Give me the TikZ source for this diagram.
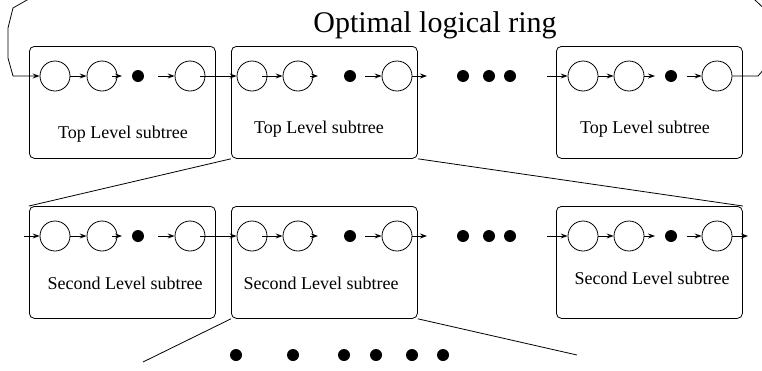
\documentclass[tikz,border=0pt]{standalone}
\usepackage{fontspec}
\setmainfont{Liberation Serif}
\usetikzlibrary{arrows.meta}
\begin{document}
\begin{tikzpicture}[x=1pt,y=-1pt,line width=0.8pt,
  ringnode/.style={circle,draw,minimum size=30pt,inner sep=0pt},
  dotnode/.style={circle,fill,minimum size=12pt,inner sep=0pt},
  subbox/.style={draw,rounded corners=5pt,minimum width=186pt,minimum height=112pt,inner sep=0pt,anchor=north west},
  lbl/.style={font=\fontsize{18}{20}\selectfont,anchor=base,inner sep=0pt},
  arr/.style={-{Stealth[length=7pt,width=5pt,inset=2.5pt]}},
]
\useasboundingbox (0,0) rectangle (762,370);

% title
\node[font=\fontsize{30}{32}\selectfont,anchor=base,inner sep=0pt] (title) at (435,32) {Optimal logical ring};

% ---------- top row ----------
\node[subbox] (t1) at (29,46) {};
\node[subbox] (t2) at (231,46) {};
\node[subbox] (t3) at (556,46) {};

\node[ringnode] (t1a) at (55,76) {};
\node[ringnode] (t1b) at (102,76) {};
\node[dotnode]  (t1d) at (138,76) {};
\node[ringnode] (t1c) at (190,76) {};

\node[ringnode] (t2a) at (252,76) {};
\node[ringnode] (t2b) at (298,76) {};
\node[dotnode]  (t2d) at (350,76) {};
\node[ringnode] (t2c) at (397,76) {};

\node[dotnode] (te1) at (463,76) {};
\node[dotnode] (te2) at (489,76) {};
\node[dotnode] (te3) at (510,76) {};

\node[ringnode] (t3a) at (583,76) {};
\node[ringnode] (t3b) at (629,76) {};
\node[dotnode]  (t3d) at (671,76) {};
\node[ringnode] (t3c) at (717,76) {};

\node[lbl] (t1l) at (123,138) {Top Level subtree};
\node[lbl] (t2l) at (319,133) {Top Level subtree};
\node[lbl] (t3l) at (645,133) {Top Level subtree};

\coordinate (t1x) at (122,76);
\coordinate (t1y) at (158,76);
\coordinate (t2x) at (318,76);
\coordinate (t2y) at (365,76);
\coordinate (t2z) at (427,76);
\coordinate (t3w) at (547,76);
\coordinate (t3x) at (655,76);
\coordinate (t3y) at (687,76);

\draw[arr] (t1a) -- (t1b);
\draw[arr] ([xshift=-5pt]t1b.east) -- (t1x);
\draw[arr] (t1y) -- (t1c);
\draw[arr] ([xshift=-5pt]t1c.east) -- (t2a);
\draw[arr] ([xshift=-5pt]t2a.east) -- (t2b);
\draw[arr] ([xshift=-3pt]t2b.east) -- (t2x);
\draw[arr] (t2y) -- (t2c);
\draw[arr] (t2c) -- (t2z);
\draw[arr] (t3w) -- (t3a);
\draw[arr] (t3a) -- (t3b);
\draw[arr] (t3b) -- (t3x);
\draw[arr] (t3y) -- (t3c);

% ring (clipped at top)
\begin{scope}
\clip (0,0) rectangle (762,370);
\draw[arr] (t3c) -- (758,76) -- (772,60) -- (774,18) -- (755,0) -- (745,-8)
  -- (40,-8) -- (27,0) -- (13,8) -- (8,28) -- (8,58) -- (13,76) -- (t1a);
\end{scope}

% ---------- second row ----------
\node[subbox] (s1) at (29,206) {};
\node[subbox] (s2) at (231,206) {};
\node[subbox] (s3) at (556,206) {};

\node[ringnode] (s1a) at (55,236) {};
\node[ringnode] (s1b) at (102,236) {};
\node[dotnode]  (s1d) at (138,236) {};
\node[ringnode] (s1c) at (190,236) {};

\node[ringnode] (s2a) at (252,236) {};
\node[ringnode] (s2b) at (298,236) {};
\node[dotnode]  (s2d) at (350,236) {};
\node[ringnode] (s2c) at (397,236) {};

\node[dotnode] (se1) at (463,236) {};
\node[dotnode] (se2) at (489,236) {};
\node[dotnode] (se3) at (510,236) {};

\node[ringnode] (s3a) at (583,236) {};
\node[ringnode] (s3b) at (629,236) {};
\node[dotnode]  (s3d) at (671,236) {};
\node[ringnode] (s3c) at (717,236) {};

\node[lbl] (s1l) at (125,289) {Second Level subtree};
\node[lbl] (s2l) at (321,289) {Second Level subtree};
\node[lbl] (s3l) at (652,284) {Second Level subtree};

\coordinate (s1w) at (24,236);
\coordinate (s1x) at (122,236);
\coordinate (s1y) at (158,236);
\coordinate (s2x) at (318,236);
\coordinate (s2y) at (365,236);
\coordinate (s2z) at (427,236);
\coordinate (s3w) at (547,236);
\coordinate (s3x) at (655,236);
\coordinate (s3y) at (687,236);
\coordinate (s3z) at (748,236);

\draw[arr] (s1w) -- (s1a);
\draw[arr] (s1a) -- (s1b);
\draw[arr] ([xshift=-5pt]s1b.east) -- (s1x);
\draw[arr] (s1y) -- (s1c);
\draw[arr] ([xshift=-5pt]s1c.east) -- (s2a);
\draw[arr] ([xshift=-5pt]s2a.east) -- (s2b);
\draw[arr] ([xshift=-3pt]s2b.east) -- (s2x);
\draw[arr] (s2y) -- (s2c);
\draw[arr] (s2c) -- (s2z);
\draw[arr] (s3w) -- (s3a);
\draw[arr] (s3a) -- (s3b);
\draw[arr] (s3b) -- (s3x);
\draw[arr] (s3y) -- (s3c);
\draw[arr] (s3c) -- (s3z);

% ---------- fan-out lines ----------
\draw (t2.south west) -- (s1.north west);
\draw (t2.south east) -- (s3.north east);
\coordinate (fl) at (143,362);
\coordinate (fr) at (577,355);
\draw (s2.south west) -- (fl);
\draw (s2.south east) -- (fr);

% ---------- third level dots ----------
\node[dotnode] (b1) at (236,355) {};
\node[dotnode] (b2) at (293,355) {};
\node[dotnode] (b3) at (344,355) {};
\node[dotnode] (b4) at (376,355) {};
\node[dotnode] (b5) at (412,355) {};
\node[dotnode] (b6) at (443,355) {};
\end{tikzpicture}
\end{document}
